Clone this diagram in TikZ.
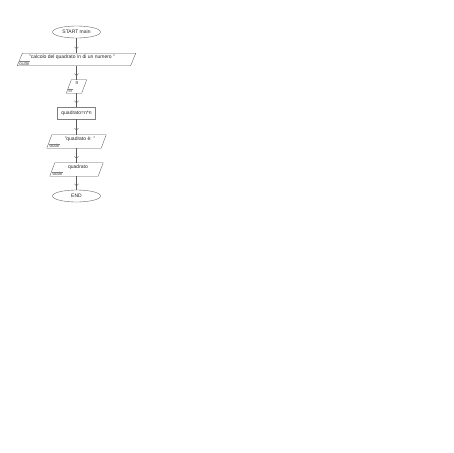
\documentclass[tikz,border=0pt]{standalone}
\usepackage{fontspec}
\setmainfont{Liberation Sans}
\usetikzlibrary{shapes.geometric,arrows.meta,decorations.markings}
\colorlet{ln}{black!65}
\newcommand{\para}[1]{\draw[ln,line width=0.35pt] ([xshift=2.5pt]#1.north west) -- ([xshift=2.5pt]#1.north east) -- ([xshift=-2.5pt]#1.south east) -- ([xshift=-2.5pt]#1.south west) -- cycle;}
\begin{document}
\begin{tikzpicture}[x=1pt,y=-1pt,
  every node/.style={font=\fontsize{5}{6}\selectfont,text=black!85},
  term/.style={draw=ln,ellipse,minimum width=48pt,minimum height=12pt,inner sep=0pt,line width=0.35pt},
  io/.style={rectangle,inner sep=0pt},
  proc/.style={draw=black!50,rectangle,inner sep=0pt,line width=0.3pt},
  tag/.style={font=\fontsize{4.6}{5}\selectfont,text=black!75,inner sep=0.3pt,anchor=south west},
  txt/.style={inner sep=0pt},
  flow/.style={draw=ln,line width=0.35pt,postaction={decorate},
    decoration={markings,mark=at position 0.72 with {\arrow[ln]{Straight Barb[length=2pt,width=4pt]}}}}
]
\useasboundingbox (0,0) rectangle (453,453);
\node[term] (start) at (76.5,32) {START main};
\node[io,minimum width=113pt,minimum height=12pt] (p1) at (76.5,59.5) {};
\para{p1}
\node[txt] (t1) at (72,57.5) {"calcolo del quadrato \textbackslash n di un numero "};
\node[tag] (g1) at (19,65.8) {outln};
\draw[black!50,line width=0.2pt] (g1.north west) -- (g1.north east);
\node[io,minimum width=15pt,minimum height=13pt] (p2) at (76.5,86.5) {};
\para{p2}
\node[txt] (t2) at (77,83.5) {n};
\node[tag] (g2) at (68,93.3) {in};
\draw[black!50,line width=0.2pt] (g2.north west) -- (g2.north east);
\node[proc,minimum width=38pt,minimum height=12pt] (r) at (76.5,113) {quadrato=n*n};
\node[io,minimum width=54pt,minimum height=13pt] (p3) at (76.5,141.5) {};
\para{p3}
\node[txt] (t3) at (80,139) {"quadrato è: "};
\node[tag] (g3) at (49,148.3) {outln};
\draw[black!50,line width=0.2pt] (g3.north west) -- (g3.north east);
\node[io,minimum width=48pt,minimum height=13pt] (p4) at (76.5,169.5) {};
\para{p4}
\node[txt] (t4) at (78,167) {quadrato};
\node[tag] (g4) at (52,176.3) {outln};
\draw[black!50,line width=0.2pt] (g4.north west) -- (g4.north east);
\node[term] (end) at (76.5,196) {END};
\path[flow] (start) -- (p1);
\path[flow] (p1) -- (p2);
\path[flow] (p2) -- (r);
\path[flow] (r) -- (p3);
\path[flow] (p3) -- (p4);
\path[flow] (p4) -- (end);
\end{tikzpicture}
\end{document}
